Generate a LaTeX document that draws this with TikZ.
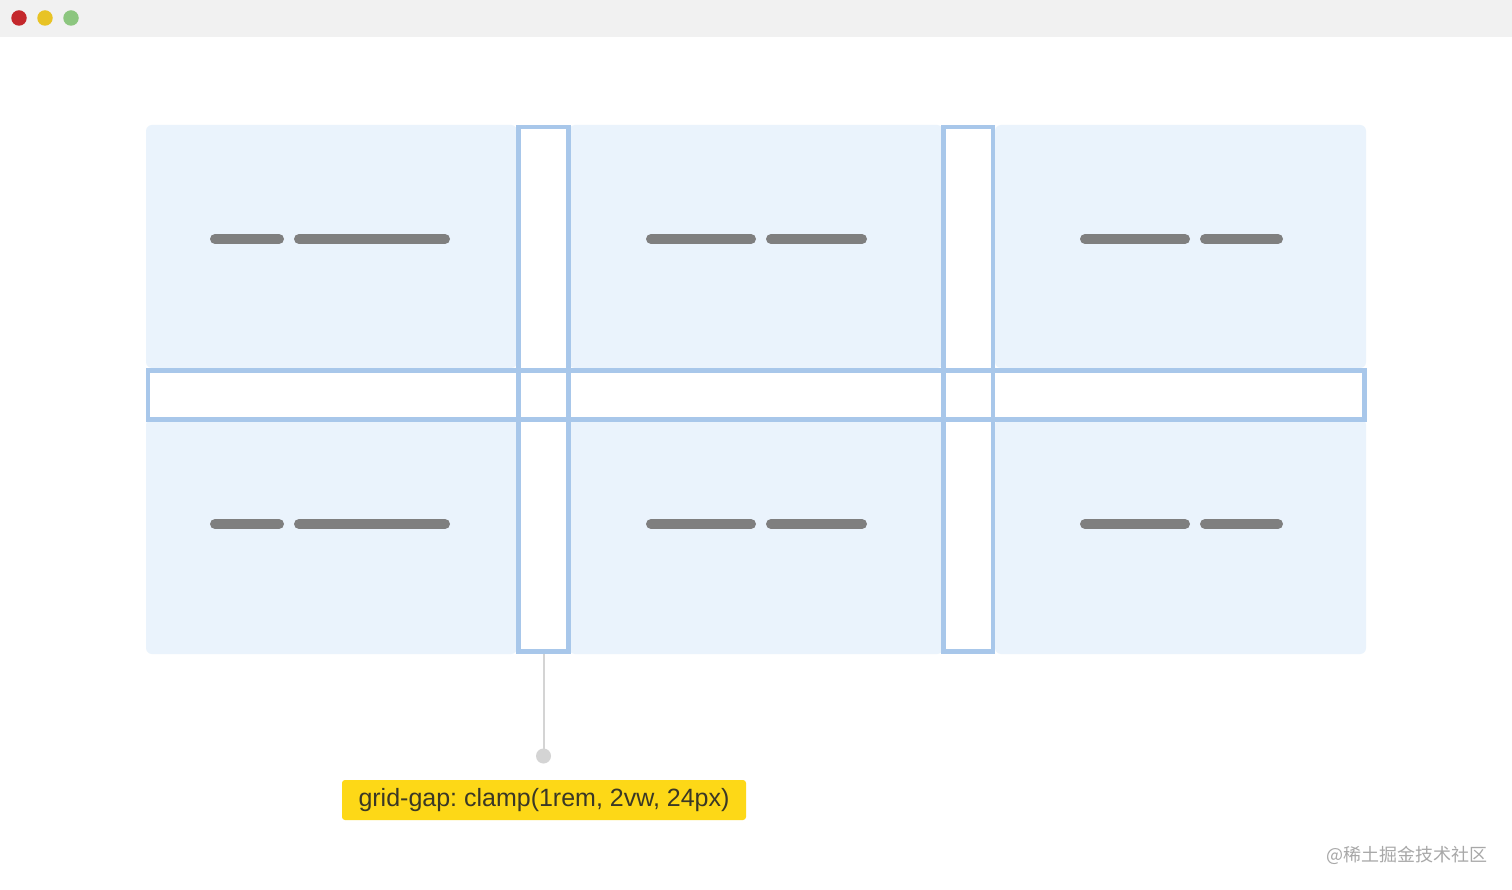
\documentclass[tikz,border=0pt]{standalone}
\usepackage{fontspec}
\setmainfont{Liberation Sans}
\newfontfamily\cjk{Noto Sans CJK SC}
\frenchspacing
\definecolor{cellblue}{HTML}{EAF3FC}
\definecolor{gapline}{HTML}{A8C7EA}
\definecolor{barcol}{HTML}{7F7F7F}
\definecolor{conncol}{HTML}{D4D4D4}
\definecolor{labelbg}{HTML}{FDD817}
\definecolor{labeltext}{HTML}{3A3826}
\definecolor{topbar}{HTML}{F1F1F1}
\definecolor{dotred}{HTML}{C4282C}
\definecolor{dotyellow}{HTML}{E8C325}
\definecolor{dotgreen}{HTML}{8CC67F}
\definecolor{wmark}{HTML}{A8A8A8}
\begin{document}
\begin{tikzpicture}[x=1pt,y=-1pt,
  cell/.style={fill=cellblue,rounded corners=6pt,inner sep=0pt,outer sep=0pt,anchor=north west,draw=none},
  gapbox/.style={draw=gapline,line width=4.5pt,inner sep=0pt,outer sep=0pt,anchor=north west},
  bar/.style={draw=barcol,line width=10pt,line cap=round},
  conn/.style={draw=conncol,line width=2pt},
  winbtn/.style={circle,inner sep=0pt,outer sep=0pt,minimum size=15.5pt}]
\useasboundingbox (0,0) rectangle (1512,890);
\fill[white] (0,0) rectangle (1512,890);
\fill[topbar] (0,0) rectangle (1512,37);
\node[winbtn,fill=dotred] (b1) at (19,18) {};
\node[winbtn,fill=dotyellow] (b2) at (45,18) {};
\node[winbtn,fill=dotgreen] (b3) at (71,18) {};
% cells
\node[cell,minimum width=371pt,minimum height=243pt] (c11) at (146,125) {};
\node[cell,minimum width=374pt,minimum height=243pt] (c12) at (569,125) {};
\node[cell,minimum width=371pt,minimum height=243pt] (c13) at (995,125) {};
\node[cell,minimum width=371pt,minimum height=235pt] (c21) at (146,419) {};
\node[cell,minimum width=374pt,minimum height=235pt] (c22) at (569,419) {};
\node[cell,minimum width=371pt,minimum height=235pt] (c23) at (995,419) {};
% text bars
\foreach \y in {239,524}{
  \draw[bar] (215,\y) -- (279,\y);
  \draw[bar] (299,\y) -- (445,\y);
  \draw[bar] (651,\y) -- (751,\y);
  \draw[bar] (771,\y) -- (862,\y);
  \draw[bar] (1085,\y) -- (1185,\y);
  \draw[bar] (1205,\y) -- (1278,\y);
}
% gaps
\node[gapbox,minimum width=1216.5pt,minimum height=49pt] (hg) at (148,370.5) {};
\node[gapbox,minimum width=50pt,minimum height=524.5pt] (vg1) at (518.5,127) {};
\node[gapbox,minimum width=49.5pt,minimum height=524.5pt] (vg2) at (943.5,127) {};
% connector and label
\node[circle,fill=conncol,inner sep=0pt,outer sep=0pt,minimum size=15pt] (dot) at (543.5,756) {};
\draw[conn] ([yshift=-2.25pt]vg1.south) -- (dot.center);
\node[fill=labelbg,rounded corners=3pt,minimum width=404pt,minimum height=40pt,inner sep=0pt,
  text=labeltext,font=\fontsize{25}{28}\selectfont] (lbl) at (544,800) {grid-gap: clamp(1rem, 2vw, 24px)};
% watermark
\node[anchor=east,inner sep=0pt,text=wmark,font=\cjk\fontsize{18}{20}\selectfont] (wm) at (1488,855) {@稀土掘金技术社区};
\end{tikzpicture}
\end{document}
